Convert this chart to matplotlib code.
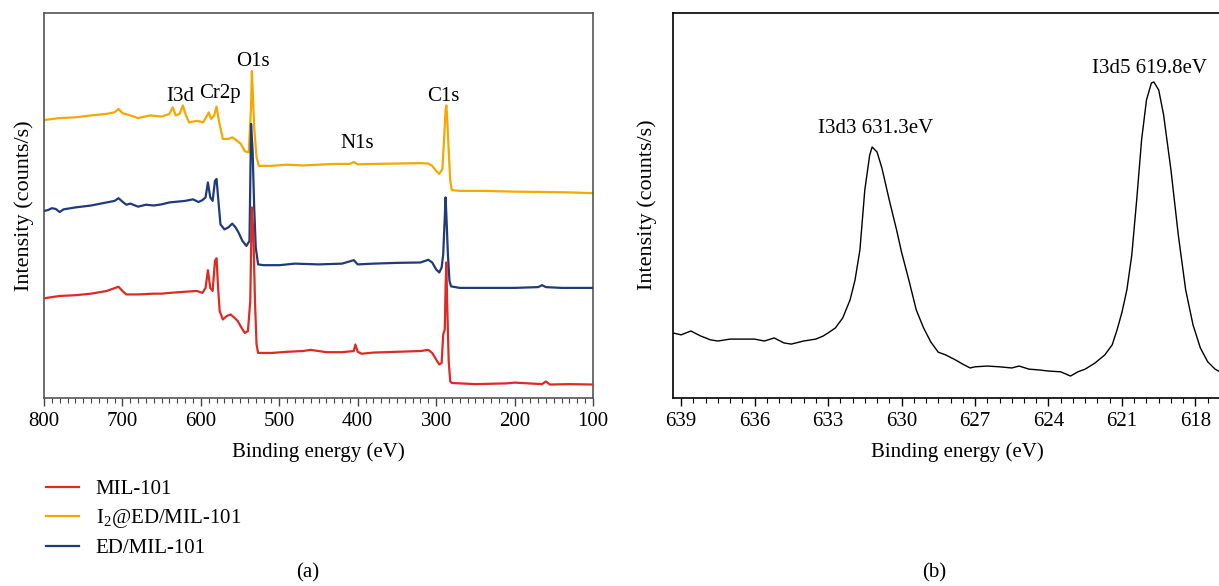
import numpy as np
import matplotlib.pyplot as plt
from matplotlib.ticker import MultipleLocator

plt.rcParams['font.family'] = ['Liberation Serif', 'DejaVu Serif']
plt.rcParams['mathtext.fontset'] = 'custom'
plt.rcParams['mathtext.rm'] = 'Liberation Serif'

# ---- (a) survey spectra, binding energy (eV) vs intensity (a.u.) ----
be_yel = [800, 780, 760, 740, 720, 710, 705, 700, 690, 680, 665, 650, 640, 636, 632,
          627, 623, 619, 615, 605, 597, 592, 590, 587, 583, 580, 577, 572, 565, 560,
          555, 549, 544, 539, 536, 535, 534, 532, 529, 526, 510, 490, 470, 450, 430,
          410, 405, 400, 380, 350, 320, 310, 305, 300, 296, 292, 290, 288, 287, 286,
          284, 282, 280, 270, 240, 200, 160, 130, 100]
i2_ed_mil = [72.2, 72.7, 72.9, 73.4, 73.8, 74.2, 75.1, 74.0, 73.4, 72.7, 73.4, 73.1, 73.8,
             75.5, 73.4, 73.8, 76.0, 73.4, 71.6, 72.0, 71.6, 73.4, 74.2, 72.5, 73.4, 75.7,
             72.0, 67.3, 67.3, 67.7, 67.0, 66.0, 64.1, 63.8, 75.5, 84.9, 80.7, 70.3, 62.5,
             60.3, 60.3, 60.6, 60.4, 60.6, 60.8, 60.8, 61.3, 60.7, 60.8, 60.9, 61.0, 60.9,
             60.3, 59.0, 58.2, 59.5, 66.8, 74.7, 76.0, 72.9, 64.2, 56.4, 54.0, 53.8, 53.8,
             53.6, 53.5, 53.4, 53.2]

be_blue = [800, 795, 790, 785, 780, 775, 760, 740, 720, 710, 705, 700, 695, 690, 680,
           670, 660, 650, 640, 630, 620, 610, 603, 598, 594, 591, 588, 585, 582, 580,
           578, 575, 570, 565, 560, 556, 552, 547, 542, 538, 536, 534, 532, 530, 527,
           520, 500, 480, 450, 420, 405, 400, 380, 350, 320, 310, 305, 300, 296, 293,
           291, 289, 288, 287, 285, 283, 281, 270, 240, 200, 170, 165, 160, 140, 100]
ed_mil = [48.6, 48.8, 49.3, 49.1, 48.3, 49.0, 49.5, 50.0, 50.8, 51.2, 51.9, 51.0, 50.2,
          50.5, 49.7, 50.2, 50.0, 50.3, 50.8, 51.0, 51.2, 51.6, 50.9, 51.4, 52.1, 56.0,
          52.1, 51.2, 56.4, 56.9, 52.1, 45.1, 43.8, 44.3, 45.3, 44.4, 43.0, 40.8, 39.5,
          40.8, 71.2, 64.2, 49.5, 39.1, 34.7, 34.5, 34.5, 34.9, 34.7, 34.9, 35.8, 34.7,
          34.9, 35.1, 35.2, 35.9, 35.2, 33.4, 32.6, 33.9, 37.3, 46.9, 52.1, 47.7, 37.3,
          30.4, 29.0, 28.6, 28.6, 28.6, 28.8, 29.3, 28.8, 28.6, 28.6]

be_red = [800, 790, 780, 760, 740, 720, 705, 700, 695, 680, 660, 650, 640, 620, 605,
          598, 594, 591, 588, 585, 582, 580, 578, 576, 572, 567, 562, 557, 553, 548,
          544, 540, 537, 535, 533, 531, 529, 527, 510, 490, 470, 460, 440, 420, 405,
          403, 400, 395, 380, 350, 320, 310, 305, 300, 296, 293, 291, 289, 288, 287,
          286, 284, 282, 280, 250, 210, 200, 165, 160, 155, 130, 100]
mil = [25.9, 26.2, 26.5, 26.7, 27.1, 27.8, 28.9, 27.8, 26.9, 26.9, 27.1, 27.1, 27.3, 27.6,
       27.8, 27.3, 28.6, 33.2, 28.6, 27.8, 35.6, 36.3, 28.6, 22.6, 20.4, 21.3, 21.7, 20.8,
       20.0, 18.2, 16.9, 17.4, 25.2, 49.5, 42.5, 25.2, 13.9, 11.7, 11.7, 12.0, 12.2, 12.5,
       11.9, 11.9, 12.2, 13.9, 12.0, 11.5, 11.8, 12.0, 12.2, 12.5, 11.7, 10.0, 8.7, 9.1,
       16.5, 17.8, 28.6, 35.2, 25.2, 9.5, 4.3, 3.9, 3.6, 3.8, 4.0, 3.6, 4.3, 3.5, 3.6, 3.5]

survey_ticks = [800, 700, 600, 500, 400, 300, 200, 100]
peak_labels = ['I3d', 'Cr2p', 'O1s', 'N1s', 'C1s']

# ---- (b) I 3d high resolution ----
be_i3d = [639.33, 639.0, 638.6, 638.2, 637.8, 637.5, 637.0, 636.5, 636.0, 635.6, 635.2,
          634.8, 634.5, 634.0, 633.5, 633.2, 633.0, 632.7, 632.4, 632.1, 631.9, 631.7,
          631.5, 631.3, 631.2, 631.0, 630.8, 630.5, 630.2, 630.0, 629.7, 629.4, 629.1,
          628.8, 628.5, 628.2, 627.8, 627.5, 627.2, 627.0, 626.5, 626.0, 625.5, 625.2,
          624.8, 624.4, 624.0, 623.5, 623.1, 622.8, 622.5, 622.1, 621.7, 621.4, 621.2,
          621.0, 620.8, 620.6, 620.4, 620.2, 620.0, 619.8, 619.7, 619.5, 619.3, 619.0,
          618.7, 618.4, 618.1, 617.8, 617.5, 617.2, 617.0]
i3d = [16.9, 16.4, 17.4, 16.1, 15.1, 14.8, 15.3, 15.3, 15.3, 14.8, 15.6, 14.3, 14.0, 14.8,
       15.3, 16.1, 16.9, 18.2, 20.8, 25.5, 30.6, 38.4, 54.0, 63.1, 65.2, 63.9, 59.7, 51.4,
       43.6, 37.9, 30.6, 22.9, 18.2, 14.5, 11.9, 11.2, 9.9, 8.8, 7.8, 8.1, 8.3, 8.1, 7.8,
       8.3, 7.5, 7.3, 7.0, 6.8, 5.7, 6.8, 7.5, 9.1, 11.2, 13.8, 17.7, 22.3, 28.1, 37.1,
       51.4, 67.0, 77.4, 81.8, 82.1, 80.0, 73.5, 59.2, 42.3, 28.1, 19.0, 13.0, 9.4, 7.5, 6.8]
hr_ticks = [639, 636, 633, 630, 627, 624, 621, 618]

RED = '#dd2a22'
YEL = '#f5a800'
BLUE = '#1f3b7a'
FS = 15

W, H = 1219, 586
fig = plt.figure(figsize=(W / 100, H / 100), dpi=100)

ax1 = fig.add_axes([44 / W, (H - 398) / H, (593 - 44) / W, (398 - 13) / H])
l_red, = ax1.plot(be_red, mil, color=RED, lw=1.6, zorder=4)
l_yel, = ax1.plot(be_yel, i2_ed_mil, color=YEL, lw=1.6, zorder=2)
l_blue, = ax1.plot(be_blue, ed_mil, color=BLUE, lw=1.6, zorder=3)
ax1.set_xlim(800, 100)
ax1.set_ylim(0, 100)
ax1.set_xticks(survey_ticks)
ax1.xaxis.set_minor_locator(MultipleLocator(10))
ax1.set_yticks([])
ax1.tick_params(axis='x', which='major', direction='out', length=6, width=1,
                labelsize=FS, pad=4, color='#444444')
ax1.tick_params(axis='x', which='minor', direction='out', length=3.5, width=0.8,
                color='#444444')
for s in ax1.spines.values():
    s.set_color('#555555')
    s.set_linewidth(1.2)
ax1.set_xlabel('Binding energy (eV)', fontsize=FS, labelpad=8)
ax1.set_ylabel('Intensity (counts/s)', fontsize=16, labelpad=7)

# peak annotations, centred on the labels' positions in panel a
ann_x = [626.6, 575.6, 533.5, 400.9, 291.3]
ann_y = [78.4, 79.0, 87.3, 66.2, 78.2]
for lab, x, y in zip(peak_labels, ann_x, ann_y):
    ax1.text(x, y, lab, ha='center', va='center', fontsize=FS)

ax2 = fig.add_axes([673 / W, (H - 398) / H, (1242 - 673) / W, (398 - 13) / H])
ax2.plot(be_i3d, i3d, color='black', lw=1.0)
ax2.set_xlim(639.33, 616.1)
ax2.set_ylim(0, 100)
ax2.set_xticks(hr_ticks)
ax2.xaxis.set_minor_locator(MultipleLocator(0.5))
ax2.set_yticks([])
ax2.tick_params(axis='x', which='major', direction='out', length=6, width=1,
                labelsize=FS, pad=4)
ax2.tick_params(axis='x', which='minor', direction='out', length=3.5, width=0.8)
for s in ax2.spines.values():
    s.set_linewidth(1.2)
ax2.set_xlabel('Binding energy (eV)', fontsize=FS, labelpad=8)
fig.text(647 / W, 1 - 205 / H, 'Intensity (counts/s)', rotation=90, fontsize=16,
         ha='center', va='center')
ax2.text(631.04, 70.1, 'I3d3 631.3eV', ha='center', va='center', fontsize=FS)
ax2.text(619.86, 85.7, 'I3d5 619.8eV', ha='center', va='center', fontsize=FS)

fig.legend([l_red, l_yel, l_blue], ['MIL-101', 'I$_2$@ED/MIL-101', 'ED/MIL-101'],
           loc='upper left', bbox_to_anchor=(33 / W, 1 - 467 / H), frameon=False,
           fontsize=FS, handlelength=1.6, handletextpad=0.8, labelspacing=0.4,
           borderaxespad=0.2)

fig.text(308 / W, 1 - 573 / H, '(a)', ha='center', va='center', fontsize=FS)
fig.text(934 / W, 1 - 573 / H, '(b)', ha='center', va='center', fontsize=FS)

fig.savefig('out.png', dpi=100)
